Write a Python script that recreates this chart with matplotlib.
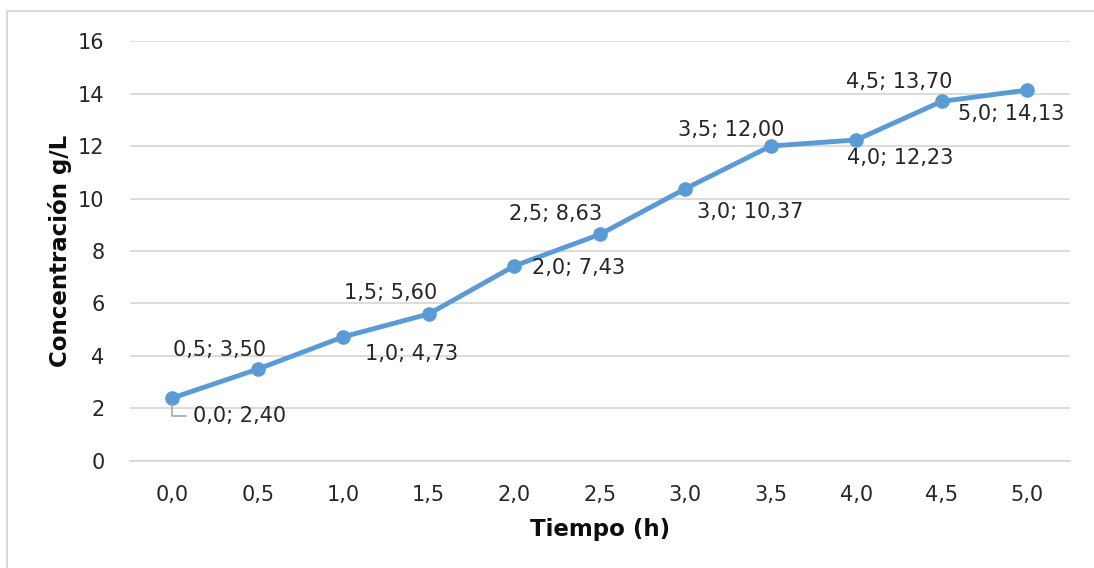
import matplotlib.pyplot as plt
from matplotlib.lines import Line2D

tiempo = ["0,0", "0,5", "1,0", "1,5", "2,0", "2,5", "3,0", "3,5", "4,0", "4,5", "5,0"]
concentracion = [2.40, 3.50, 4.73, 5.60, 7.43, 8.63, 10.37, 12.00, 12.23, 13.70, 14.13]
etiquetas = ["0,0; 2,40", "0,5; 3,50", "1,0; 4,73", "1,5; 5,60", "2,0; 7,43", "2,5; 8,63",
             "3,0; 10,37", "3,5; 12,00", "4,0; 12,23", "4,5; 13,70", "5,0; 14,13"]
# desplazamiento de cada etiqueta en pixeles (centro del texto)
offsets = [(21, -18), (-38, 19), (68, -17), (-38, 21), (64, -2), (-44, 20),
           (65, -23), (-40, 16), (44, -18), (-43, 19), (-16, -24)]

plt.rcParams["font.family"] = ["DejaVu Sans"]
fig = plt.figure(figsize=(10.94, 5.68), dpi=100)
ax = fig.add_axes([0.1184, 0.1884, 0.978 - 0.1184, 0.9278 - 0.1884])

# borde del grafico (solo arriba e izquierda son visibles)
fig.add_artist(Line2D([7 / 1094, 1.05], [1 - 11 / 568, 1 - 11 / 568], color="#D9D9D9", linewidth=1.5))
fig.add_artist(Line2D([7 / 1094, 7 / 1094], [-0.05, 1 - 11 / 568], color="#D9D9D9", linewidth=1.5))

x = list(range(len(tiempo)))
ax.plot(x, concentracion, color="#5B9BD5", linewidth=3.5, marker="o", markersize=9.5, zorder=3)

for i, (xi, yi) in enumerate(zip(x, concentracion)):
    dx, dy = offsets[i]
    if i == 0:
        ax.annotate(etiquetas[i], (xi, yi), xytext=(dx, dy), textcoords="offset pixels",
                    ha="left", va="center", fontsize=15, color="#262626",
                    arrowprops=dict(arrowstyle="-", color="#A6A6A6", lw=1.2,
                                    connectionstyle="angle,angleA=0,angleB=90,rad=0",
                                    shrinkA=3, shrinkB=4))
    else:
        ax.annotate(etiquetas[i], (xi, yi), xytext=(dx, dy), textcoords="offset pixels",
                    ha="center", va="center", fontsize=15, color="#262626")

ax.set_xlim(-0.5, len(tiempo) - 0.5)
ax.set_ylim(0, 16)
ax.set_yticks(range(0, 17, 2))
ax.set_xticks(x)
ax.set_xticklabels(tiempo)
ax.grid(axis="y", color="#D9D9D9", linewidth=1.3)
ax.set_axisbelow(True)
for s in ["top", "right", "left"]:
    ax.spines[s].set_visible(False)
ax.spines["bottom"].set_color("#D9D9D9")
ax.spines["bottom"].set_linewidth(1.3)
ax.tick_params(axis="both", length=0, labelsize=15, labelcolor="#262626")
ax.tick_params(axis="y", pad=18)
ax.tick_params(axis="x", pad=17)

ax.set_xlabel("Tiempo (h)", fontsize=16.5, fontweight="bold", color="#0D0D0D", labelpad=10)
ax.set_ylabel("Concentración g/L", fontsize=16.5, fontweight="bold", color="#0D0D0D", labelpad=4)

fig.savefig("out.png", dpi=100)
